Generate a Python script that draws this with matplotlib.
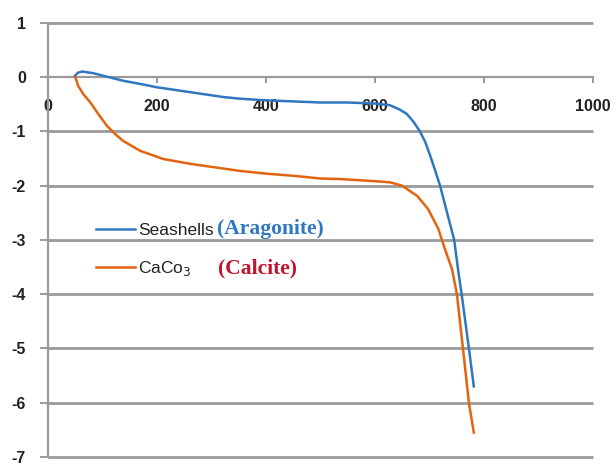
import matplotlib
matplotlib.use('Agg')
import matplotlib.pyplot as plt

# seashells (aragonite) curve
blue_x = [49, 55, 63, 83, 110, 138, 170, 200, 261, 322, 352, 400, 450, 500, 550, 600,
          627, 645, 658, 670, 682, 692, 701, 710, 719, 732, 745, 752, 760, 772, 781]
blue_y = [0.02, 0.08, 0.1, 0.07, 0.0, -0.07, -0.13, -0.19, -0.28, -0.37, -0.4, -0.43,
          -0.45, -0.47, -0.47, -0.49, -0.52, -0.6, -0.68, -0.82, -1.0, -1.2, -1.45,
          -1.72, -2.0, -2.5, -3.0, -3.54, -4.1, -5.0, -5.7]

# CaCO3 (calcite) curve
orange_x = [50, 55, 65, 77, 92, 108, 123, 138, 169, 211, 261, 303, 352, 400, 450, 500,
            536, 600, 627, 649, 677, 697, 716, 728, 741, 750, 760, 772, 781]
orange_y = [0.0, -0.16, -0.32, -0.46, -0.68, -0.9, -1.05, -1.18, -1.36, -1.51, -1.6,
            -1.66, -1.73, -1.78, -1.82, -1.87, -1.88, -1.92, -1.94, -2.0, -2.19, -2.43,
            -2.8, -3.17, -3.54, -4.0, -4.9, -6.0, -6.55]

xticks = [0, 200, 400, 600, 800, 1000]
yticks = [1, 0, -1, -2, -3, -4, -5, -6, -7]

blue = '#2f78c0'
orange = '#e2640f'
grid_c = '#9a9a9a'

plt.rcParams['font.family'] = ['Liberation Sans', 'DejaVu Sans']

fig = plt.figure(figsize=(6.16, 4.66), dpi=100)
ax = fig.add_axes([0.078, 0.0193, 0.885, 0.932])

ax.set_xlim(0, 1000)
ax.set_ylim(-7, 1)

# horizontal gridlines (the zero line is the x axis itself)
for y in yticks:
    if y != 0:
        ax.plot([xticks[0], xticks[-1]], [y, y], color=grid_c, lw=2.0, zorder=2,
                solid_capstyle='butt', clip_on=False)

ax.plot(blue_x, blue_y, color=blue, lw=1.8, label='Seashells', zorder=3)
ax.plot(orange_x, orange_y, color=orange, lw=1.8, label='CaCo$_3$', zorder=3)

ax.spines['top'].set_visible(False)
ax.spines['right'].set_visible(False)
ax.spines['bottom'].set_position(('data', 0))
for s in ['bottom', 'left']:
    ax.spines[s].set_color(grid_c)
    ax.spines[s].set_linewidth(1.6)

ax.set_xticks(xticks)
ax.set_yticks(yticks)
ax.set_xticklabels([str(v) for v in xticks], fontsize=11.5, fontweight='bold', color='#222222')
ax.set_yticklabels([str(v) for v in yticks], fontsize=11.5, fontweight='bold', color='#222222')
ax.tick_params(axis='x', direction='out', length=4, width=1.4, color=grid_c, pad=12)
ax.tick_params(axis='y', direction='out', length=6, width=1.4, color=grid_c, pad=10)

handles = ax.get_lines()[-2:]
leg = ax.legend(handles=handles, loc='upper left', bbox_to_anchor=(0.060, 0.576),
                frameon=False, handlelength=2.2, handletextpad=0.22, labelspacing=1.25,
                fontsize=12.5)
for t in leg.get_texts():
    t.set_color('#222222')

ax.text(0.310, 0.525, '(Aragonite)', transform=ax.transAxes, color=blue,
        fontsize=15.5, fontweight='bold', family='Liberation Serif', va='center')
ax.text(0.312, 0.435, '(Calcite)', transform=ax.transAxes, color='#c0142c',
        fontsize=15.5, fontweight='bold', family='Liberation Serif', va='center')

fig.savefig('out.png', dpi=100)
